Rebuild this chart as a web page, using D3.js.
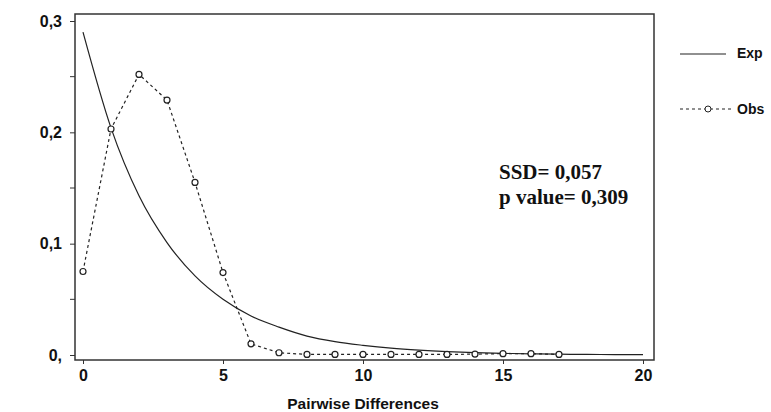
<!DOCTYPE html>
<html>
<head>
<meta charset="utf-8">
<script src="https://cdn.jsdelivr.net/npm/d3@7"></script>
<style>
  body { margin: 0; background: #fff; }
  text { font-family: "Liberation Sans", Arial, sans-serif; font-weight: bold; fill: #111; }
</style>
</head>
<body>
<div id="chart"></div>
<script>
// Mismatch distribution: expected vs observed
const expX = [0, 1, 2, 3, 4, 5, 6, 7, 8, 9, 10, 11, 12, 13, 14, 15, 16, 17, 18, 19, 20];
const expY = [0.290, 0.204, 0.143, 0.101, 0.071, 0.050, 0.035, 0.025, 0.017, 0.012,
              0.0087, 0.0061, 0.0043, 0.0030, 0.0021, 0.0015, 0.0010, 0.0007, 0.0005, 0.0004, 0.0003];
const obsX = [0, 1, 2, 3, 4, 5, 6, 7, 8, 9, 10, 11, 12, 13, 14, 15, 16, 17];
const obsY = [0.075, 0.203, 0.252, 0.229, 0.155, 0.074, 0.010, 0.002, 0.0005, 0.0005,
              0.0005, 0.0005, 0.0005, 0.0005, 0.0008, 0.0012, 0.0012, 0.0005];
const xTicks = [0, 5, 10, 15, 20];
const yTicks = [0, 0.1, 0.2, 0.3];
const yMinor = [0.05, 0.15, 0.25];
const yTickLabels = ['0,', '0,1', '0,2', '0,3'];
const legendLabels = ['Exp', 'Obs'];
const statLines = ['SSD= 0,057', 'p value= 0,309'];

const width = 771, height = 412;
const box = { left: 75, top: 14, right: 654, bottom: 360 };

const svg = d3.select('#chart').append('svg')
    .attr('width', width)
    .attr('height', height);

const xScale = d3.scaleLinear().domain([0, 20]).range([83, 643]);
const yScale = d3.scaleLinear().domain([0, 0.3]).range([355, 21]);

// Frame
svg.append('rect')
    .attr('x', box.left)
    .attr('y', box.top)
    .attr('width', box.right - box.left)
    .attr('height', box.bottom - box.top)
    .attr('fill', 'none')
    .attr('stroke', '#333')
    .attr('stroke-width', 1.5);

// Y axis
const yAxis = d3.axisLeft(yScale)
    .tickValues(yTicks)
    .tickSize(5)
    .tickFormat((d, i) => yTickLabels[i]);
const gy = svg.append('g')
    .attr('transform', `translate(${box.left},0)`)
    .call(yAxis);
gy.select('.domain').remove();
gy.selectAll('.tick line').attr('stroke', '#333');
gy.selectAll('.tick text')
    .attr('x', -13)
    .style('font-size', '16px');

svg.append('g')
    .selectAll('line')
    .data(yMinor)
    .enter()
    .append('line')
    .attr('x1', box.left - 5)
    .attr('x2', box.left)
    .attr('y1', d => yScale(d))
    .attr('y2', d => yScale(d))
    .attr('stroke', '#333');

// X axis
const xAxis = d3.axisBottom(xScale)
    .tickValues(xTicks)
    .tickSize(4)
    .tickFormat(d3.format('d'));
const gx = svg.append('g')
    .attr('transform', `translate(0,${box.bottom})`)
    .call(xAxis);
gx.select('.domain').remove();
gx.selectAll('.tick line').attr('stroke', '#333');
gx.selectAll('.tick text')
    .attr('y', 10)
    .style('font-size', '16px');

svg.append('text')
    .attr('x', xScale(10))
    .attr('y', 409)
    .attr('text-anchor', 'middle')
    .style('font-size', '15.5px')
    .text('Pairwise Differences');

// Expected curve
const expLine = d3.line()
    .x((d, i) => xScale(expX[i]))
    .y(d => yScale(d))
    .curve(d3.curveMonotoneX);

svg.append('path')
    .datum(expY)
    .attr('d', expLine)
    .attr('fill', 'none')
    .attr('stroke', '#222')
    .attr('stroke-width', 1.2);

// Observed
const obsLine = d3.line()
    .x((d, i) => xScale(obsX[i]))
    .y(d => yScale(d));

svg.append('path')
    .datum(obsY)
    .attr('d', obsLine)
    .attr('fill', 'none')
    .attr('stroke', '#222')
    .attr('stroke-width', 1.2)
    .attr('stroke-dasharray', '3,3');

svg.append('g')
    .selectAll('circle')
    .data(obsY)
    .enter()
    .append('circle')
    .attr('cx', (d, i) => xScale(obsX[i]))
    .attr('cy', d => yScale(d))
    .attr('r', 3)
    .attr('fill', '#fff')
    .attr('stroke', '#222')
    .attr('stroke-width', 1.2);

// Legend
const legend = svg.append('g');
legend.append('line')
    .attr('x1', 680).attr('x2', 726)
    .attr('y1', 54).attr('y2', 54)
    .attr('stroke', '#222')
    .attr('stroke-width', 1.2);
legend.append('line')
    .attr('x1', 680).attr('x2', 733)
    .attr('y1', 109).attr('y2', 109)
    .attr('stroke', '#222')
    .attr('stroke-width', 1.2)
    .attr('stroke-dasharray', '3,3');
legend.append('circle')
    .attr('cx', 708).attr('cy', 109)
    .attr('r', 3)
    .attr('fill', '#fff')
    .attr('stroke', '#222');
legend.selectAll('text')
    .data(legendLabels)
    .enter()
    .append('text')
    .attr('x', 737)
    .attr('y', (d, i) => 58 + i * 56)
    .style('font-size', '14px')
    .text(d => d);

// Stats annotation
svg.append('g')
    .selectAll('text')
    .data(statLines)
    .enter()
    .append('text')
    .attr('x', 499)
    .attr('y', (d, i) => 179 + i * 25)
    .style('font-family', '"Liberation Serif", "Times New Roman", serif')
    .style('font-size', '21px')
    .text(d => d);
</script>
</body>
</html>
